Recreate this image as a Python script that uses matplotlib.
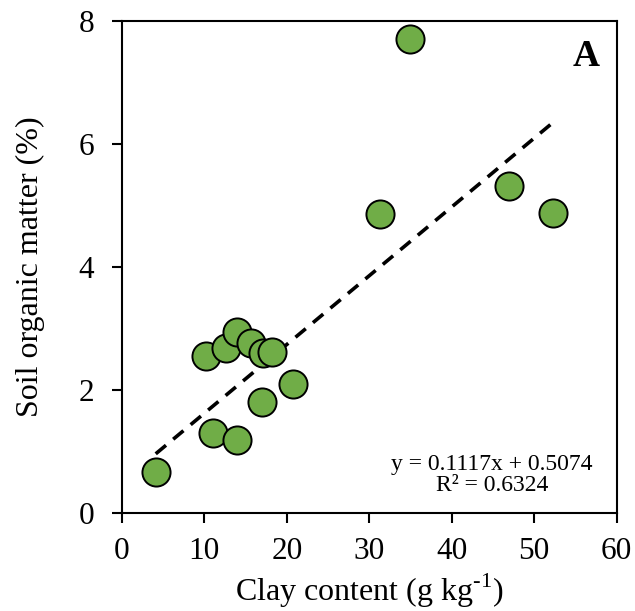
import numpy as np
import matplotlib
matplotlib.use("Agg")
import matplotlib.pyplot as plt

# Data
clay = [4.1, 11.0, 13.9, 10.2, 12.6, 13.9, 15.7, 17.1, 18.2, 20.8, 17.0, 31.3, 34.9, 46.9, 52.3]
som = [0.67, 1.30, 1.19, 2.56, 2.69, 2.95, 2.76, 2.60, 2.62, 2.10, 1.80, 4.86, 7.71, 5.31, 4.88]

slope = 0.1117
intercept = 0.5074
r2 = 0.6324

plt.rcParams['font.family'] = ['Liberation Serif', 'DejaVu Serif']
plt.rcParams['mathtext.fontset'] = 'custom'
plt.rcParams['mathtext.rm'] = 'Liberation Serif'

fig = plt.figure(figsize=(6.35, 6.11), dpi=100)
ax = fig.add_axes([0.192, 0.160, 0.779, 0.806])

# regression line over the data range
xl = np.array([min(clay), max(clay)])
ax.plot(xl, slope * xl + intercept, color='black', linestyle=(0, (3.7, 2.6)), linewidth=2.6, zorder=2)

ax.scatter(clay, som, s=410, color='#70AD47', edgecolor='black', linewidth=1.4, zorder=3)

ax.set_xlim(0, 60)
ax.set_ylim(0, 8)
ax.set_xticks(range(0, 61, 10))
ax.set_yticks(range(0, 9, 2))

for sp in ax.spines.values():
    sp.set_linewidth(1.5)
ax.tick_params(direction='out', length=7, width=1.5, labelsize=22.5)
ax.tick_params(axis='x', pad=10)
ax.tick_params(axis='y', pad=13)

ax.set_xlabel('Clay content (g kg$^{\\text{-1}}$)', fontsize=23, labelpad=4)
ax.set_ylabel('Soil organic matter (%)', fontsize=23, labelpad=24)

ax.text(0.748, 0.077, f'y = {slope:.4f}x + {intercept:.4f}\nR² = {r2:.4f}',
        transform=ax.transAxes, ha='center', va='center', fontsize=17, linespacing=1.0)
ax.text(0.938, 0.927, 'A', transform=ax.transAxes, ha='center', va='center',
        fontsize=27, fontweight='bold')

fig.savefig('out.png', dpi=100)
